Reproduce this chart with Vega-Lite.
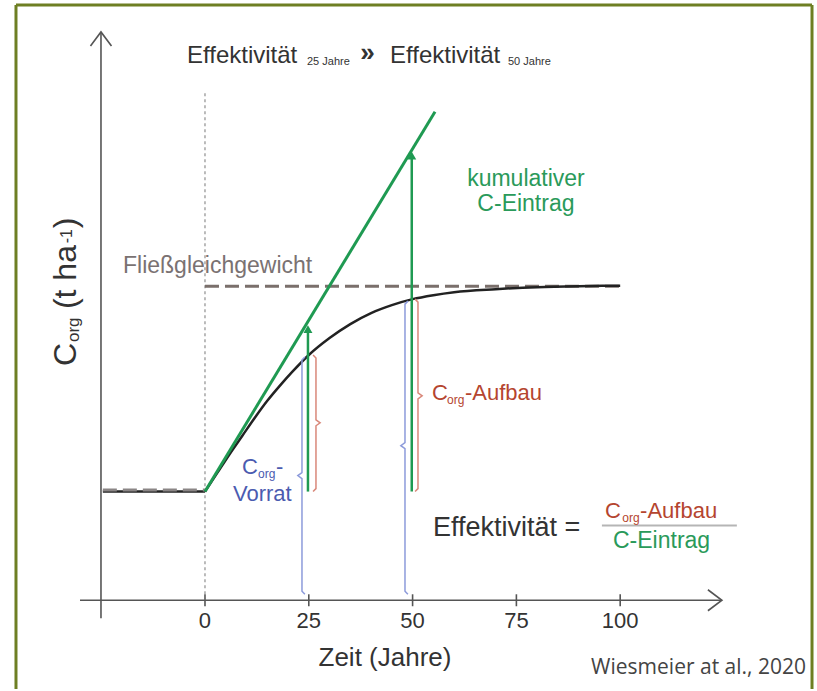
{
"$schema": "https://vega.github.io/schema/vega-lite/v6.json",
"width": 817, "height": 691,
"autosize": {"type": "fit", "contains": "padding"},
"padding": 0,
"background": "white",
"config": {"view": {"stroke": null}},
"layer": [
{"data": {"values": [
 {"x": -45.52, "y": -89, "x2": -45.52, "y2": 597},
 {"x": -45.52, "y": 597, "x2": 146.2, "y2": 597},
 {"x": 146.2, "y": 597, "x2": 146.2, "y2": -89}]},
 "mark": {"type": "rule", "color": "#6e7f23", "strokeWidth": 3},
 "encoding": {
  "x": {"field": "x", "type": "quantitative", "scale": {"domain": [-49.37, 147.4], "nice": false, "zero": false}, "axis": null},
  "y": {"field": "y", "type": "quantitative", "scale": {"domain": [-89, 602], "nice": false, "zero": false}, "axis": null},
  "x2": {"field": "x2"}, "y2": {"field": "y2"}}},
{"data": {"values": [
 {"x": -30.1, "y": 0, "x2": 124.5, "y2": 0},
 {"x": -25.05, "y": -18, "x2": -25.05, "y2": 570},
 {"x": 0, "y": -6, "x2": 0, "y2": 6},
 {"x": 25, "y": -6, "x2": 25, "y2": 6},
 {"x": 50, "y": -6, "x2": 50, "y2": 6},
 {"x": 75, "y": -6, "x2": 75, "y2": 6},
 {"x": 100, "y": -6, "x2": 100, "y2": 6}]},
 "mark": {"type": "rule", "color": "#555555", "strokeWidth": 1.6},
 "encoding": {
  "x": {"field": "x", "type": "quantitative", "scale": {"domain": [-49.37, 147.4], "nice": false, "zero": false}, "axis": null},
  "y": {"field": "y", "type": "quantitative", "scale": {"domain": [-89, 602], "nice": false, "zero": false}, "axis": null},
  "x2": {"field": "x2"}, "y2": {"field": "y2"}}},
{"data": {"values": [{"x": 0, "y": 0, "x2": 0, "y2": 510}]},
 "mark": {"type": "rule", "color": "#777777", "strokeWidth": 1, "strokeDash": [3, 3]},
 "encoding": {
  "x": {"field": "x", "type": "quantitative", "scale": {"domain": [-49.37, 147.4], "nice": false, "zero": false}, "axis": null},
  "y": {"field": "y", "type": "quantitative", "scale": {"domain": [-89, 602], "nice": false, "zero": false}, "axis": null},
  "x2": {"field": "x2"}, "y2": {"field": "y2"}}},
{"data": {"values": [{"x": 124.5, "y": 0}]},
 "mark": {"type": "point", "shape": "M -1 -0.75 L 0 0 L -1 0.75", "filled": false, "stroke": "#555555", "strokeWidth": 1.6, "size": 784, "opacity": 1},
 "encoding": {
  "x": {"field": "x", "type": "quantitative", "scale": {"domain": [-49.37, 147.4], "nice": false, "zero": false}, "axis": null},
  "y": {"field": "y", "type": "quantitative", "scale": {"domain": [-89, 602], "nice": false, "zero": false}, "axis": null}}},
{"data": {"values": [{"x": -25.05, "y": 570}]},
 "mark": {"type": "point", "shape": "M -1 -0.75 L 0 0 L -1 0.75", "filled": false, "stroke": "#555555", "strokeWidth": 1.6, "size": 784, "angle": 270, "opacity": 1},
 "encoding": {
  "x": {"field": "x", "type": "quantitative", "scale": {"domain": [-49.37, 147.4], "nice": false, "zero": false}, "axis": null},
  "y": {"field": "y", "type": "quantitative", "scale": {"domain": [-89, 602], "nice": false, "zero": false}, "axis": null}}},
{"data": {"values": [{"x": 0, "y": 315, "x2": 100, "y2": 315}]},
 "mark": {"type": "rule", "color": "#7a6f6b", "strokeWidth": 3, "strokeDash": [14, 6]},
 "encoding": {
  "x": {"field": "x", "type": "quantitative", "scale": {"domain": [-49.37, 147.4], "nice": false, "zero": false}, "axis": null},
  "y": {"field": "y", "type": "quantitative", "scale": {"domain": [-89, 602], "nice": false, "zero": false}, "axis": null},
  "x2": {"field": "x2"}, "y2": {"field": "y2"}}},
{"data": {"values": [
 {"seg": "a", "x": -24.6, "y": 109}, {"seg": "a", "x": 0, "y": 109},
 {"seg": "b", "x": 0, "y": 109}, {"seg": "b", "x": 3, "y": 128}, {"seg": "b", "x": 6, "y": 147},
 {"seg": "b", "x": 9, "y": 165}, {"seg": "b", "x": 12, "y": 183}, {"seg": "b", "x": 15, "y": 200},
 {"seg": "b", "x": 18, "y": 215}, {"seg": "b", "x": 21, "y": 229}, {"seg": "b", "x": 25, "y": 246},
 {"seg": "b", "x": 30, "y": 263}, {"seg": "b", "x": 35, "y": 277}, {"seg": "b", "x": 40, "y": 288},
 {"seg": "b", "x": 45, "y": 296}, {"seg": "b", "x": 50, "y": 302}, {"seg": "b", "x": 55, "y": 306},
 {"seg": "b", "x": 60, "y": 309}, {"seg": "b", "x": 70, "y": 312}, {"seg": "b", "x": 80, "y": 314},
 {"seg": "b", "x": 90, "y": 315}, {"seg": "b", "x": 100, "y": 315.5}]},
 "mark": {"type": "line", "color": "#222222", "strokeWidth": 2.5, "interpolate": "monotone"},
 "encoding": {
  "x": {"field": "x", "type": "quantitative", "scale": {"domain": [-49.37, 147.4], "nice": false, "zero": false}, "axis": null},
  "y": {"field": "y", "type": "quantitative", "scale": {"domain": [-89, 602], "nice": false, "zero": false}, "axis": null},
  "detail": {"field": "seg"}}},
{"data": {"values": [{"x": -24.6, "y": 110.5, "x2": 0, "y2": 110.5}]},
 "mark": {"type": "rule", "color": "#8a8585", "strokeWidth": 3, "strokeDash": [14, 6]},
 "encoding": {
  "x": {"field": "x", "type": "quantitative", "scale": {"domain": [-49.37, 147.4], "nice": false, "zero": false}, "axis": null},
  "y": {"field": "y", "type": "quantitative", "scale": {"domain": [-89, 602], "nice": false, "zero": false}, "axis": null},
  "x2": {"field": "x2"}, "y2": {"field": "y2"}}},
{"data": {"values": [{"x": 0, "y": 109, "x2": 55.4, "y2": 490}]},
 "mark": {"type": "rule", "color": "#1f9a52", "strokeWidth": 3},
 "encoding": {
  "x": {"field": "x", "type": "quantitative", "scale": {"domain": [-49.37, 147.4], "nice": false, "zero": false}, "axis": null},
  "y": {"field": "y", "type": "quantitative", "scale": {"domain": [-89, 602], "nice": false, "zero": false}, "axis": null},
  "x2": {"field": "x2"}, "y2": {"field": "y2"}}},
{"data": {"values": [{"x": 24.8, "y": 109, "x2": 24.8, "y2": 270}, {"x": 49.8, "y": 109, "x2": 49.8, "y2": 444}]},
 "mark": {"type": "rule", "color": "#1f9a52", "strokeWidth": 2.5},
 "encoding": {
  "x": {"field": "x", "type": "quantitative", "scale": {"domain": [-49.37, 147.4], "nice": false, "zero": false}, "axis": null},
  "y": {"field": "y", "type": "quantitative", "scale": {"domain": [-89, 602], "nice": false, "zero": false}, "axis": null},
  "x2": {"field": "x2"}, "y2": {"field": "y2"}}},
{"data": {"values": [{"x": 24.8, "y": 272}, {"x": 49.8, "y": 446}]},
 "mark": {"type": "point", "shape": "triangle-up", "filled": true, "color": "#1f9a52", "size": 80, "opacity": 1},
 "encoding": {
  "x": {"field": "x", "type": "quantitative", "scale": {"domain": [-49.37, 147.4], "nice": false, "zero": false}, "axis": null},
  "y": {"field": "y", "type": "quantitative", "scale": {"domain": [-89, 602], "nice": false, "zero": false}, "axis": null}}},
{"data": {"values": [
 {"b": "r25", "i": 0, "x": 26.03, "y": 246}, {"b": "r25", "i": 1, "x": 26.73, "y": 243}, {"b": "r25", "i": 2, "x": 26.73, "y": 181},
 {"b": "r25", "i": 3, "x": 27.73, "y": 178}, {"b": "r25", "i": 4, "x": 26.73, "y": 175}, {"b": "r25", "i": 5, "x": 26.73, "y": 112},
 {"b": "r25", "i": 6, "x": 26.03, "y": 109},
 {"b": "r50", "i": 0, "x": 50.6, "y": 302}, {"b": "r50", "i": 1, "x": 51.3, "y": 299}, {"b": "r50", "i": 2, "x": 51.3, "y": 208},
 {"b": "r50", "i": 3, "x": 52.3, "y": 205}, {"b": "r50", "i": 4, "x": 51.3, "y": 202}, {"b": "r50", "i": 5, "x": 51.3, "y": 112},
 {"b": "r50", "i": 6, "x": 50.6, "y": 109}]},
 "mark": {"type": "line", "color": "#d9887a", "strokeWidth": 1.5},
 "encoding": {
  "x": {"field": "x", "type": "quantitative", "scale": {"domain": [-49.37, 147.4], "nice": false, "zero": false}, "axis": null},
  "y": {"field": "y", "type": "quantitative", "scale": {"domain": [-89, 602], "nice": false, "zero": false}, "axis": null},
  "detail": {"field": "b"}, "order": {"field": "i"}}},
{"data": {"values": [
 {"b": "b25", "i": 0, "x": 24.06, "y": 244}, {"b": "b25", "i": 1, "x": 23.36, "y": 241}, {"b": "b25", "i": 2, "x": 23.36, "y": 128},
 {"b": "b25", "i": 3, "x": 22.36, "y": 125}, {"b": "b25", "i": 4, "x": 23.36, "y": 122}, {"b": "b25", "i": 5, "x": 23.36, "y": 9},
 {"b": "b25", "i": 6, "x": 24.06, "y": 6},
 {"b": "b50", "i": 0, "x": 48.87, "y": 300}, {"b": "b50", "i": 1, "x": 48.17, "y": 297}, {"b": "b50", "i": 2, "x": 48.17, "y": 158},
 {"b": "b50", "i": 3, "x": 47.17, "y": 155}, {"b": "b50", "i": 4, "x": 48.17, "y": 152}, {"b": "b50", "i": 5, "x": 48.17, "y": 9},
 {"b": "b50", "i": 6, "x": 48.87, "y": 6}]},
 "mark": {"type": "line", "color": "#8d9bdb", "strokeWidth": 1.5},
 "encoding": {
  "x": {"field": "x", "type": "quantitative", "scale": {"domain": [-49.37, 147.4], "nice": false, "zero": false}, "axis": null},
  "y": {"field": "y", "type": "quantitative", "scale": {"domain": [-89, 602], "nice": false, "zero": false}, "axis": null},
  "detail": {"field": "b"}, "order": {"field": "i"}}},
{"data": {"values": [{"x": 95.6, "y": 75, "x2": 128.1, "y2": 75}]},
 "mark": {"type": "rule", "color": "#b5b5b5", "strokeWidth": 2},
 "encoding": {
  "x": {"field": "x", "type": "quantitative", "scale": {"domain": [-49.37, 147.4], "nice": false, "zero": false}, "axis": null},
  "y": {"field": "y", "type": "quantitative", "scale": {"domain": [-89, 602], "nice": false, "zero": false}, "axis": null},
  "x2": {"field": "x2"}, "y2": {"field": "y2"}}},
{"data": {"values": [{"x": -4.34, "y": 539, "t": "Effektivität"}, {"x": 44.56, "y": 539, "t": "Effektivität"}]},
 "mark": {"type": "text", "font": "Liberation Sans", "fontSize": 24, "color": "#333333", "align": "left", "baseline": "alphabetic"},
 "encoding": {
  "x": {"field": "x", "type": "quantitative", "scale": {"domain": [-49.37, 147.4], "nice": false, "zero": false}, "axis": null},
  "y": {"field": "y", "type": "quantitative", "scale": {"domain": [-89, 602], "nice": false, "zero": false}, "axis": null},
  "text": {"field": "t"}}},
{"data": {"values": [{"x": 24.57, "y": 537, "t": "25 Jahre"}, {"x": 72.98, "y": 537, "t": "50 Jahre"}]},
 "mark": {"type": "text", "font": "Liberation Sans", "fontSize": 11, "color": "#333333", "align": "left", "baseline": "alphabetic"},
 "encoding": {
  "x": {"field": "x", "type": "quantitative", "scale": {"domain": [-49.37, 147.4], "nice": false, "zero": false}, "axis": null},
  "y": {"field": "y", "type": "quantitative", "scale": {"domain": [-89, 602], "nice": false, "zero": false}, "axis": null},
  "text": {"field": "t"}}},
{"data": {"values": [{"x": 37.4, "y": 541, "t": "»"}]},
 "mark": {"type": "text", "font": "Liberation Sans", "fontSize": 26, "fontWeight": "bold", "color": "#333333", "align": "left", "baseline": "alphabetic"},
 "encoding": {
  "x": {"field": "x", "type": "quantitative", "scale": {"domain": [-49.37, 147.4], "nice": false, "zero": false}, "axis": null},
  "y": {"field": "y", "type": "quantitative", "scale": {"domain": [-89, 602], "nice": false, "zero": false}, "axis": null},
  "text": {"field": "t"}}},
{"data": {"values": [{"x": -19.75, "y": 328, "t": "Fließgleichgewicht"}]},
 "mark": {"type": "text", "font": "Liberation Sans", "fontSize": 23, "color": "#7a7272", "align": "left", "baseline": "alphabetic"},
 "encoding": {
  "x": {"field": "x", "type": "quantitative", "scale": {"domain": [-49.37, 147.4], "nice": false, "zero": false}, "axis": null},
  "y": {"field": "y", "type": "quantitative", "scale": {"domain": [-89, 602], "nice": false, "zero": false}, "axis": null},
  "text": {"field": "t"}}},
{"data": {"values": [{"x": 77.3, "y": 415, "t": "kumulativer"}, {"x": 77.3, "y": 390, "t": "C-Eintrag"}]},
 "mark": {"type": "text", "font": "Liberation Sans", "fontSize": 23, "color": "#2a9a5a", "align": "center", "baseline": "alphabetic"},
 "encoding": {
  "x": {"field": "x", "type": "quantitative", "scale": {"domain": [-49.37, 147.4], "nice": false, "zero": false}, "axis": null},
  "y": {"field": "y", "type": "quantitative", "scale": {"domain": [-89, 602], "nice": false, "zero": false}, "axis": null},
  "text": {"field": "t"}}},
{"data": {"values": [{"x": 54.67, "y": 201, "t": "C"}, {"x": 62.6, "y": 201, "t": "-Aufbau"}, {"x": 96.34, "y": 82, "t": "C"}, {"x": 104.8, "y": 82, "t": "-Aufbau"}]},
 "mark": {"type": "text", "font": "Liberation Sans", "fontSize": 22, "color": "#b5452f", "align": "left", "baseline": "alphabetic"},
 "encoding": {
  "x": {"field": "x", "type": "quantitative", "scale": {"domain": [-49.37, 147.4], "nice": false, "zero": false}, "axis": null},
  "y": {"field": "y", "type": "quantitative", "scale": {"domain": [-89, 602], "nice": false, "zero": false}, "axis": null},
  "text": {"field": "t"}}},
{"data": {"values": [{"x": 58.3, "y": 197, "t": "org"}, {"x": 100.5, "y": 78, "t": "org"}]},
 "mark": {"type": "text", "font": "Liberation Sans", "fontSize": 12, "color": "#b5452f", "align": "left", "baseline": "alphabetic"},
 "encoding": {
  "x": {"field": "x", "type": "quantitative", "scale": {"domain": [-49.37, 147.4], "nice": false, "zero": false}, "axis": null},
  "y": {"field": "y", "type": "quantitative", "scale": {"domain": [-89, 602], "nice": false, "zero": false}, "axis": null},
  "text": {"field": "t"}}},
{"data": {"values": [{"x": 8.91, "y": 127, "t": "C"}, {"x": 17.1, "y": 127, "t": "-"}, {"x": 6.74, "y": 100, "t": "Vorrat"}]},
 "mark": {"type": "text", "font": "Liberation Sans", "fontSize": 22, "color": "#4b5bb0", "align": "left", "baseline": "alphabetic"},
 "encoding": {
  "x": {"field": "x", "type": "quantitative", "scale": {"domain": [-49.37, 147.4], "nice": false, "zero": false}, "axis": null},
  "y": {"field": "y", "type": "quantitative", "scale": {"domain": [-89, 602], "nice": false, "zero": false}, "axis": null},
  "text": {"field": "t"}}},
{"data": {"values": [{"x": 12.76, "y": 123, "t": "org"}]},
 "mark": {"type": "text", "font": "Liberation Sans", "fontSize": 12, "color": "#4b5bb0", "align": "left", "baseline": "alphabetic"},
 "encoding": {
  "x": {"field": "x", "type": "quantitative", "scale": {"domain": [-49.37, 147.4], "nice": false, "zero": false}, "axis": null},
  "y": {"field": "y", "type": "quantitative", "scale": {"domain": [-89, 602], "nice": false, "zero": false}, "axis": null},
  "text": {"field": "t"}}},
{"data": {"values": [{"x": 54.91, "y": 64, "t": "Effektivität ="}]},
 "mark": {"type": "text", "font": "Liberation Sans", "fontSize": 27, "color": "#333333", "align": "left", "baseline": "alphabetic"},
 "encoding": {
  "x": {"field": "x", "type": "quantitative", "scale": {"domain": [-49.37, 147.4], "nice": false, "zero": false}, "axis": null},
  "y": {"field": "y", "type": "quantitative", "scale": {"domain": [-89, 602], "nice": false, "zero": false}, "axis": null},
  "text": {"field": "t"}}},
{"data": {"values": [{"x": 98.27, "y": 52, "t": "C-Eintrag"}]},
 "mark": {"type": "text", "font": "Liberation Sans", "fontSize": 23, "color": "#2a9a5a", "align": "left", "baseline": "alphabetic"},
 "encoding": {
  "x": {"field": "x", "type": "quantitative", "scale": {"domain": [-49.37, 147.4], "nice": false, "zero": false}, "axis": null},
  "y": {"field": "y", "type": "quantitative", "scale": {"domain": [-89, 602], "nice": false, "zero": false}, "axis": null},
  "text": {"field": "t"}}},
{"data": {"values": [{"x": 0, "y": -28, "t": "0"}, {"x": 25, "y": -28, "t": "25"}, {"x": 50, "y": -28, "t": "50"}, {"x": 75, "y": -28, "t": "75"}, {"x": 100, "y": -28, "t": "100"}]},
 "mark": {"type": "text", "font": "Liberation Sans", "fontSize": 22, "color": "#333333", "align": "center", "baseline": "alphabetic"},
 "encoding": {
  "x": {"field": "x", "type": "quantitative", "scale": {"domain": [-49.37, 147.4], "nice": false, "zero": false}, "axis": null},
  "y": {"field": "y", "type": "quantitative", "scale": {"domain": [-89, 602], "nice": false, "zero": false}, "axis": null},
  "text": {"field": "t"}}},
{"data": {"values": [{"x": 43.35, "y": -66, "t": "Zeit (Jahre)"}]},
 "mark": {"type": "text", "font": "Liberation Sans", "fontSize": 26, "color": "#333333", "align": "center", "baseline": "alphabetic"},
 "encoding": {
  "x": {"field": "x", "type": "quantitative", "scale": {"domain": [-49.37, 147.4], "nice": false, "zero": false}, "axis": null},
  "y": {"field": "y", "type": "quantitative", "scale": {"domain": [-89, 602], "nice": false, "zero": false}, "axis": null},
  "text": {"field": "t"}}},
{"data": {"values": [{"x": 144.75, "y": -74, "t": "Wiesmeier at al., 2020"}]},
 "mark": {"type": "text", "font": "Open Sans", "fontSize": 21, "color": "#444444", "align": "right", "baseline": "alphabetic"},
 "encoding": {
  "x": {"field": "x", "type": "quantitative", "scale": {"domain": [-49.37, 147.4], "nice": false, "zero": false}, "axis": null},
  "y": {"field": "y", "type": "quantitative", "scale": {"domain": [-89, 602], "nice": false, "zero": false}, "axis": null},
  "text": {"field": "t"}}},
{"data": {"values": [{"x": -31.07, "y": 235, "t": "C"}, {"x": -31.07, "y": 292, "t": "(t ha"}, {"x": -31.07, "y": 373, "t": ")"}]},
 "mark": {"type": "text", "font": "Liberation Sans", "fontSize": 32, "color": "#333333", "align": "left", "baseline": "alphabetic", "angle": 270},
 "encoding": {
  "x": {"field": "x", "type": "quantitative", "scale": {"domain": [-49.37, 147.4], "nice": false, "zero": false}, "axis": null},
  "y": {"field": "y", "type": "quantitative", "scale": {"domain": [-89, 602], "nice": false, "zero": false}, "axis": null},
  "text": {"field": "t"}}},
{"data": {"values": [{"x": -30.35, "y": 259, "t": "org"}]},
 "mark": {"type": "text", "font": "Liberation Sans", "fontSize": 17, "color": "#333333", "align": "left", "baseline": "alphabetic", "angle": 270},
 "encoding": {
  "x": {"field": "x", "type": "quantitative", "scale": {"domain": [-49.37, 147.4], "nice": false, "zero": false}, "axis": null},
  "y": {"field": "y", "type": "quantitative", "scale": {"domain": [-89, 602], "nice": false, "zero": false}, "axis": null},
  "text": {"field": "t"}}},
{"data": {"values": [{"x": -32.03, "y": 358, "t": "-1"}]},
 "mark": {"type": "text", "font": "Liberation Sans", "fontSize": 16, "color": "#333333", "align": "left", "baseline": "alphabetic", "angle": 270},
 "encoding": {
  "x": {"field": "x", "type": "quantitative", "scale": {"domain": [-49.37, 147.4], "nice": false, "zero": false}, "axis": null},
  "y": {"field": "y", "type": "quantitative", "scale": {"domain": [-89, 602], "nice": false, "zero": false}, "axis": null},
  "text": {"field": "t"}}}
]
}
